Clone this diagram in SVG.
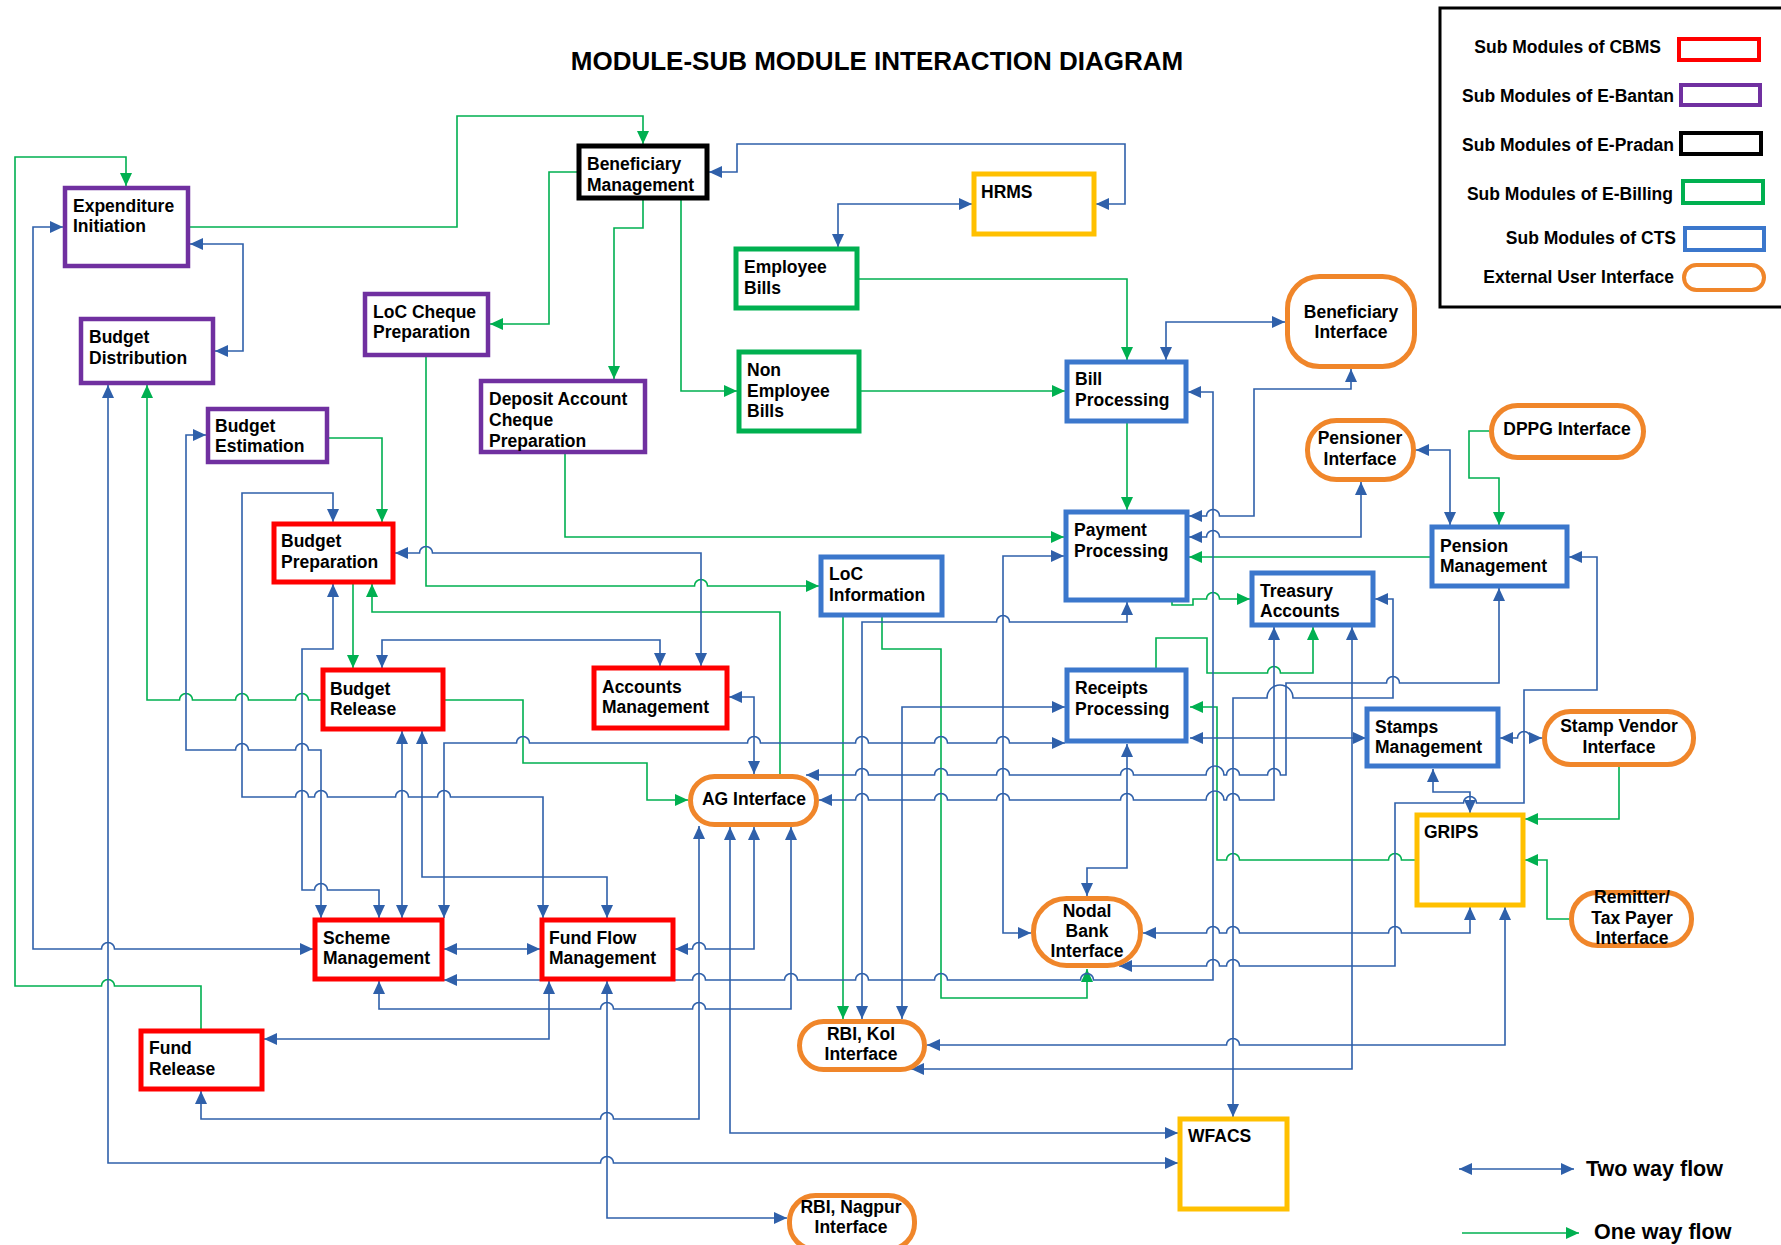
<svg xmlns="http://www.w3.org/2000/svg" width="1781" height="1245" viewBox="0 0 1781 1245">
<defs>
<style>
text{font-family:"Liberation Sans",Arial,sans-serif;font-weight:bold;font-size:17.5px;fill:#000}
.c{text-anchor:middle}
.e{text-anchor:end}
rect{fill:#fff}
.red{stroke:#FF0000;stroke-width:5}
.pur{stroke:#7030A0;stroke-width:4.5}
.blk{stroke:#000;stroke-width:5}
.grn{stroke:#00B050;stroke-width:5}
.blu{stroke:#3B77CC;stroke-width:5}
.yel{stroke:#FFC000;stroke-width:5}
.org{stroke:#F0862A;stroke-width:5}
.cb{fill:none;stroke:#2F60AA;stroke-width:1.6;marker-start:url(#ab);marker-end:url(#ab)}
.cg{fill:none;stroke:#00B050;stroke-width:1.6;marker-end:url(#ag)}
</style>
<marker id="ab" viewBox="0 0 13 12" refX="13" refY="6" markerWidth="13" markerHeight="12" markerUnits="userSpaceOnUse" orient="auto-start-reverse"><path d="M0,0 L13,6 L0,12 z" fill="#2F60AA"/></marker>
<marker id="ag" viewBox="0 0 13 12" refX="13" refY="6" markerWidth="13" markerHeight="12" markerUnits="userSpaceOnUse" orient="auto-start-reverse"><path d="M0,0 L13,6 L0,12 z" fill="#00B050"/></marker>
</defs>
<rect x="0" y="0" width="1781" height="1245" fill="#fff"/>
<text x="877" y="70" class="c" style="font-size:26px">MODULE-SUB MODULE INTERACTION DIAGRAM</text>

<g id="legend">
<rect x="1440" y="8" width="400" height="299" fill="none" stroke="#000" stroke-width="3"/>
<text x="1661" y="53" class="e">Sub Modules of CBMS</text>
<rect x="1679" y="39" width="80" height="21" class="red" style="stroke-width:4"/>
<text x="1674" y="102" class="e">Sub Modules of E-Bantan</text>
<rect x="1681" y="85" width="79" height="20" class="pur" style="stroke-width:4"/>
<text x="1674" y="151" class="e">Sub Modules of E-Pradan</text>
<rect x="1681" y="133" width="80" height="21" class="blk" style="stroke-width:4"/>
<text x="1673" y="200" class="e">Sub Modules of E-Billing</text>
<rect x="1683" y="181" width="80" height="22" class="grn" style="stroke-width:4"/>
<text x="1676" y="244" class="e">Sub Modules of CTS</text>
<rect x="1685" y="228" width="79" height="22" class="blu" style="stroke-width:4"/>
<text x="1674" y="283" class="e">External User Interface</text>
<rect x="1684" y="265" width="80" height="25" rx="12.5" class="org" style="stroke-width:4"/>
</g>

<g id="connectors">
<!-- green one-way -->
<path class="cg" d="M190,227 H457 V116 H643 V144"/>
<path class="cg" d="M201,1029 V986 H114.5 a6.5 6.5 0 0 0 -13 0 H15 V157 H126 V186"/>
<path class="cg" d="M321,700 H308.5 a6.5 6.5 0 0 0 -13 0 H248.5 a6.5 6.5 0 0 0 -13 0 H192.5 a6.5 6.5 0 0 0 -13 0 H147 V385"/>
<path class="cg" d="M329,438 H382 V522"/>
<path class="cg" d="M353,584 V668"/>
<path class="cg" d="M780,774 V612 H372 V584"/>
<path class="cg" d="M426,357 V586 H694.5 a6.5 6.5 0 0 1 13 0 H819"/>
<path class="cg" d="M565,454 V537 H1064"/>
<path class="cg" d="M445,700 H523 V763 H647 V800 H688"/>
<path class="cg" d="M843,617 V1019"/>
<path class="cg" d="M882,617 V649 H941 V998 H1087 V969"/>
<path class="cg" d="M1127,423 V510"/>
<path class="cg" d="M1172,602 V605 H1193 V599 H1206.5 a6.5 6.5 0 0 1 13 0 H1250"/>
<path class="cg" d="M1156,668 V638 H1207 V673 H1267.5 a6.5 6.5 0 0 1 13 0 H1313 V627"/>
<path class="cg" d="M1430,557 H1189"/>
<path class="cg" d="M1489,431 H1469 V478 H1499 V525"/>
<path class="cg" d="M1619,767 V819 H1525"/>
<path class="cg" d="M1569,919 H1547 V860 H1525"/>
<path class="cg" d="M1415,860 H1401.5 a6.5 6.5 0 0 0 -13 0 H1239.5 a6.5 6.5 0 0 0 -13 0 H1217 V707 H1190"/>
<path class="cg" d="M859,279 H1127 V360"/>
<path class="cg" d="M681,200 V391 H737"/>
<path class="cg" d="M861,391 H1065"/>
<path class="cg" d="M643,200 V228 H614 V379"/>
<path class="cg" d="M577,172 H549 V324 H490"/>
<!-- blue two-way -->
<path class="cb" d="M63,227 H33 V949 H101.5 a6.5 6.5 0 0 1 13 0 H313"/>
<path class="cb" d="M190,244 H243 V351 H215"/>
<path class="cb" d="M108,385 V1163 H600.5 a6.5 6.5 0 0 1 13 0 H1178"/>
<path class="cb" d="M206,435 H186 V750 H235.5 a6.5 6.5 0 0 1 13 0 H295.5 a6.5 6.5 0 0 1 13 0 H321 V918"/>
<path class="cb" d="M333,522 V493 H242 V797 H295.5 a6.5 6.5 0 0 1 13 0 H314.5 a6.5 6.5 0 0 1 13 0 H395.5 a6.5 6.5 0 0 1 13 0 H437.5 a6.5 6.5 0 0 1 13 0 H543 V918"/>
<path class="cb" d="M333,584 V649 H302 V890 H314.5 a6.5 6.5 0 0 1 13 0 H379 V918"/>
<path class="cb" d="M395,553 H419.5 a6.5 6.5 0 0 1 13 0 H701 V666"/>
<path class="cb" d="M382,668 V640 H660 V666"/>
<path class="cb" d="M402,731 V918"/>
<path class="cb" d="M422,731 V877 H607 V918"/>
<path class="cb" d="M444,918 V743 H516.5 a6.5 6.5 0 0 1 13 0 H747.5 a6.5 6.5 0 0 1 13 0 H855.5 a6.5 6.5 0 0 1 13 0 H934.5 a6.5 6.5 0 0 1 13 0 H996.5 a6.5 6.5 0 0 1 13 0 H1065"/>
<path class="cb" d="M444,949 H540"/>
<path class="cb" d="M444,980 H692.5 a6.5 6.5 0 0 1 13 0 H784.5 a6.5 6.5 0 0 1 13 0 H855.5 a6.5 6.5 0 0 1 13 0 H934.5 a6.5 6.5 0 0 1 13 0 H1080.5 a6.5 6.5 0 0 1 13 0 H1213 V392 H1188"/>
<path class="cb" d="M549,981 V1039 H264"/>
<path class="cb" d="M607,981 V1218 H787"/>
<path class="cb" d="M675,949 H692.5 a6.5 6.5 0 0 1 13 0 H754 V827"/>
<path class="cb" d="M379,981 V1009 H600.5 a6.5 6.5 0 0 1 13 0 H692.5 a6.5 6.5 0 0 1 13 0 H791 V827"/>
<path class="cb" d="M201,1091 V1119 H600.5 a6.5 6.5 0 0 1 13 0 H699 V826"/>
<path class="cb" d="M730,827 V1133 H1178"/>
<path class="cb" d="M729,697 H754 V774"/>
<path class="cb" d="M806,775 H855.5 a6.5 6.5 0 0 1 13 0 H934.5 a6.5 6.5 0 0 1 13 0 H996.5 a6.5 6.5 0 0 1 13 0 H1120.5 a6.5 6.5 0 0 1 13 0 H1206 a9 9 0 0 1 18 0 H1226.5 a6.5 6.5 0 0 1 13 0 H1267.5 a6.5 6.5 0 0 1 13 0 H1286 V683 H1386.5 a6.5 6.5 0 0 1 13 0 H1499 V588"/>
<path class="cb" d="M819,800 H855.5 a6.5 6.5 0 0 1 13 0 H934.5 a6.5 6.5 0 0 1 13 0 H996.5 a6.5 6.5 0 0 1 13 0 H1120.5 a6.5 6.5 0 0 1 13 0 H1206 a9 9 0 0 1 18 0 H1226.5 a6.5 6.5 0 0 1 13 0 H1274 V627"/>
<path class="cb" d="M1127,602 V622 H1009.5 a6.5 6.5 0 0 0 -13 0 H862 V1019"/>
<path class="cb" d="M1065,707 H902 V1019"/>
<path class="cb" d="M1064,556 H1003 V933 H1031"/>
<path class="cb" d="M1127,744 V868 H1087 V896"/>
<path class="cb" d="M1189,516 H1206.5 a6.5 6.5 0 0 1 13 0 H1254 V389 H1351 V369"/>
<path class="cb" d="M1189,537 H1206.5 a6.5 6.5 0 0 1 13 0 H1361 V482"/>
<path class="cb" d="M1416,450 H1450 V525"/>
<path class="cb" d="M1166,360 V322 H1285"/>
<path class="cb" d="M1375,599 H1393 V698 H1293 a13 13 0 0 0 -26 0 H1233 V1117"/>
<path class="cb" d="M1569,557 H1597 V690 H1524 V803 H1476.5 a6.5 6.5 0 0 0 -13 0 H1395 V966 H1239.5 a6.5 6.5 0 0 0 -13 0 H1219.5 a6.5 6.5 0 0 0 -13 0 H1119"/>
<path class="cb" d="M1190,738 H1366"/>
<path class="cb" d="M1500,738 H1517.5 a6.5 6.5 0 0 1 13 0 H1542"/>
<path class="cb" d="M1433,769 V792 H1470 V813"/>
<path class="cb" d="M1470,907 V933 H1401.5 a6.5 6.5 0 0 0 -13 0 H1239.5 a6.5 6.5 0 0 0 -13 0 H1219.5 a6.5 6.5 0 0 0 -13 0 H1143"/>
<path class="cb" d="M1505,907 V1045 H1239.5 a6.5 6.5 0 0 0 -13 0 H927"/>
<path class="cb" d="M1352,627 V1069 H911"/>
<path class="cb" d="M709,172 H737 V144 H1125 V204 H1096"/>
<path class="cb" d="M972,204 H838 V247"/>
<!-- flow legend -->
<path class="cb" d="M1459,1169 H1574"/>
<path class="cg" d="M1462,1233 H1579"/>
</g>
<text x="1586" y="1176" style="font-size:21.5px">Two way flow</text>
<text x="1594" y="1239" style="font-size:21.5px">One way flow</text>

<g id="n-exp"><rect x="65" y="188" width="123" height="78" class="pur"/><text x="73" y="212">Expenditure</text><text x="73" y="232">Initiation</text></g>
<g id="n-bd"><rect x="81" y="319" width="132" height="64" class="pur"/><text x="89" y="343">Budget</text><text x="89" y="364">Distribution</text></g>
<g id="n-be"><rect x="208" y="409" width="119" height="53" class="pur"/><text x="215" y="432">Budget</text><text x="215" y="452">Estimation</text></g>
<g id="n-loccp"><rect x="365" y="294" width="123" height="61" class="pur"/><text x="373" y="318">LoC Cheque</text><text x="373" y="338">Preparation</text></g>
<g id="n-dacp"><rect x="481" y="381" width="164" height="71" class="pur"/><text x="489" y="405">Deposit Account</text><text x="489" y="426">Cheque</text><text x="489" y="447">Preparation</text></g>
<g id="n-benm"><rect x="579" y="146" width="128" height="52" class="blk"/><text x="587" y="170">Beneficiary</text><text x="587" y="191">Management</text></g>
<g id="n-hrms"><rect x="974" y="174" width="120" height="60" class="yel"/><text x="981" y="198">HRMS</text></g>
<g id="n-empb"><rect x="736" y="249" width="121" height="59" class="grn"/><text x="744" y="273">Employee</text><text x="744" y="294">Bills</text></g>
<g id="n-nemp"><rect x="739" y="352" width="120" height="79" class="grn"/><text x="747" y="376">Non</text><text x="747" y="397">Employee</text><text x="747" y="417">Bills</text></g>
<g id="n-billp"><rect x="1067" y="362" width="119" height="59" class="blu"/><text x="1075" y="385">Bill</text><text x="1075" y="406">Processing</text></g>
<g id="n-benint"><rect x="1287.5" y="276.5" width="127" height="90" rx="32" class="org"/><text x="1351" y="318" class="c">Beneficiary</text><text x="1351" y="338" class="c">Interface</text></g>
<g id="n-pensioner"><rect x="1307.5" y="420.5" width="106" height="59" rx="29" class="org"/><text x="1360" y="444" class="c">Pensioner</text><text x="1360" y="465" class="c">Interface</text></g>
<g id="n-dppg"><rect x="1491.5" y="405.5" width="152" height="52" rx="26" class="org"/><text x="1567" y="435" class="c">DPPG Interface</text></g>
<g id="n-payp"><rect x="1066" y="512" width="121" height="88" class="blu"/><text x="1074" y="536">Payment</text><text x="1074" y="557">Processing</text></g>
<g id="n-pension"><rect x="1432" y="527" width="135" height="59" class="blu"/><text x="1440" y="552">Pension</text><text x="1440" y="572">Management</text></g>
<g id="n-treasury"><rect x="1252" y="573" width="121" height="52" class="blu"/><text x="1260" y="597">Treasury</text><text x="1260" y="617">Accounts</text></g>
<g id="n-locinfo"><rect x="821" y="557" width="121" height="58" class="blu"/><text x="829" y="580">LoC</text><text x="829" y="601">Information</text></g>
<g id="n-bp"><rect x="274" y="524" width="119" height="58" class="red"/><text x="281" y="547">Budget</text><text x="281" y="568">Preparation</text></g>
<g id="n-br"><rect x="323" y="670" width="120" height="59" class="red"/><text x="330" y="695">Budget</text><text x="330" y="715">Release</text></g>
<g id="n-am"><rect x="594" y="668" width="133" height="60" class="red"/><text x="602" y="693">Accounts</text><text x="602" y="713">Management</text></g>
<g id="n-receipts"><rect x="1067" y="670" width="119" height="71" class="blu"/><text x="1075" y="694">Receipts</text><text x="1075" y="715">Processing</text></g>
<g id="n-stamps"><rect x="1367" y="709" width="131" height="57" class="blu"/><text x="1375" y="733">Stamps</text><text x="1375" y="753">Management</text></g>
<g id="n-sv"><rect x="1544.5" y="711.5" width="149" height="53" rx="26" class="org"/><text x="1619" y="732" class="c">Stamp Vendor</text><text x="1619" y="753" class="c">Interface</text></g>
<g id="n-ag"><rect x="690.5" y="776.5" width="126" height="48" rx="24" class="org"/><text x="754" y="805" class="c">AG Interface</text></g>
<g id="n-grips"><rect x="1417" y="815" width="106" height="90" class="yel"/><text x="1424" y="838">GRIPS</text></g>
<g id="n-remitter"><rect x="1571.5" y="892.5" width="120" height="53" rx="26" class="org"/><text x="1632" y="903" class="c">Remitter/</text><text x="1632" y="924" class="c">Tax Payer</text><text x="1632" y="944" class="c">Interface</text></g>
<g id="n-scheme"><rect x="315" y="920" width="127" height="59" class="red"/><text x="323" y="944">Scheme</text><text x="323" y="964">Management</text></g>
<g id="n-fundflow"><rect x="542" y="920" width="131" height="59" class="red"/><text x="549" y="944">Fund Flow</text><text x="549" y="964">Management</text></g>
<g id="n-nodal"><rect x="1033.5" y="898.5" width="107" height="67" rx="33" class="org"/><text x="1087" y="917" class="c">Nodal</text><text x="1087" y="937" class="c">Bank</text><text x="1087" y="957" class="c">Interface</text></g>
<g id="n-fundrel"><rect x="141" y="1031" width="121" height="58" class="red"/><text x="149" y="1054">Fund</text><text x="149" y="1075">Release</text></g>
<g id="n-rbikol"><rect x="799.5" y="1021.5" width="125" height="48" rx="24" class="org"/><text x="861" y="1040" class="c">RBI, Kol</text><text x="861" y="1060" class="c">Interface</text></g>
<g id="n-wfacs"><rect x="1180" y="1119" width="107" height="90" class="yel"/><text x="1188" y="1142">WFACS</text></g>
<g id="n-rbinag"><rect x="789.5" y="1195.5" width="125" height="54" rx="26" class="org"/><text x="851" y="1213" class="c">RBI, Nagpur</text><text x="851" y="1233" class="c">Interface</text></g>
</svg>
